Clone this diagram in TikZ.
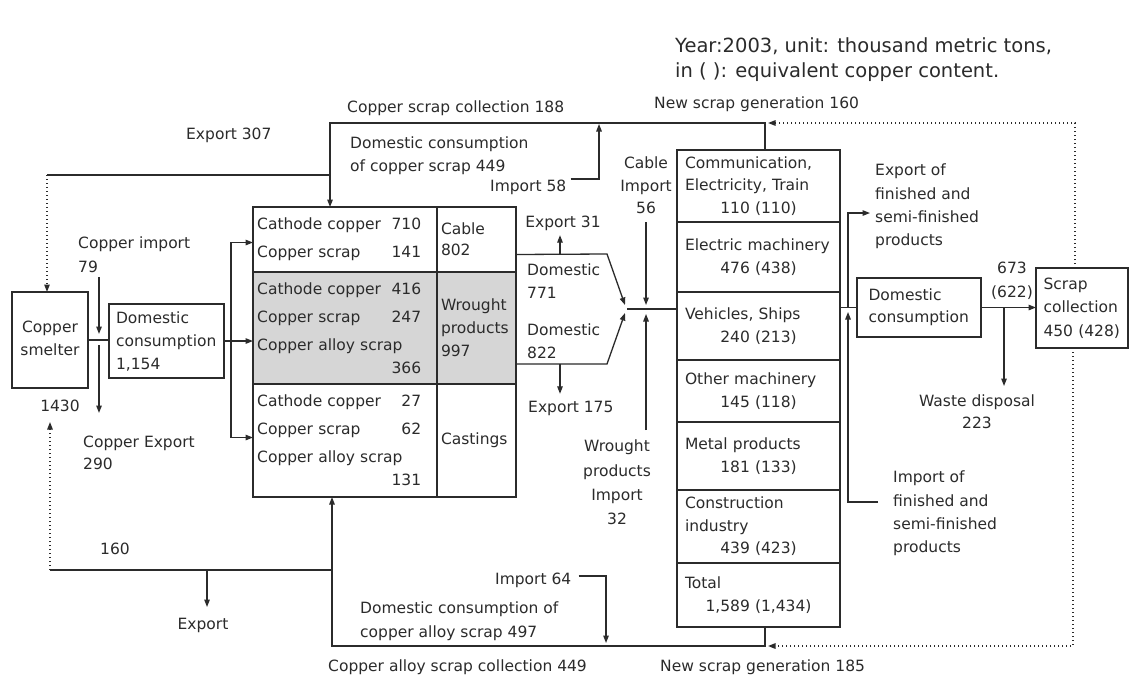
\documentclass[tikz,border=0pt]{standalone}
\usepackage{fontspec}
\setmainfont{DejaVu Sans}
\usetikzlibrary{arrows.meta,positioning}
\definecolor{ink}{HTML}{2B2B2B}
\definecolor{shade}{HTML}{D6D6D6}
\newcommand\fs[1]{\fontsize{15.5}{#1}\selectfont}
\newcommand\sv{\rule[-4pt]{0pt}{16pt}}
\tikzset{
  txt/.style={inner sep=0pt, align=left, text=ink, font={\fs{23}},
              execute at begin node=\sv},
  box/.style={txt, rectangle, draw=ink, line width=1.4pt, outer sep=0pt},
  cell/.style={box, minimum width=184pt},
  side/.style={box, minimum width=79pt, text width=71pt, inner xsep=4pt},
  use/.style={box, minimum width=163pt, text width=147pt, inner xsep=8pt},
  ln/.style={draw=ink, line width=1.3pt},
  fl/.style={ln, -{Triangle[length=7.5pt,width=5.5pt]}},
  dl/.style={fl, dash pattern=on 1.4pt off 2.6pt},
  dln/.style={ln, dash pattern=on 1.4pt off 2.6pt}
}
\begin{document}
\begin{tikzpicture}[x=1pt, y=-1pt]
  \fill[white] (0,0) rectangle (1129,680);
  \useasboundingbox (0,0) rectangle (1129,680);
  \node[txt, anchor=north west, font={\fontsize{19.5}{25}\selectfont}] (note) at (675,37)
    {Year:2003, unit: thousand metric tons,\\in ( ): equivalent copper content.};

  % smelter and first split
  \node[box, minimum width=76pt, minimum height=96pt, align=center] (smelter) at (50,340) {Copper\\smelter};
  \node[txt, anchor=center] (t1430) at (60,407) {1430};
  \node[box, minimum width=115pt, minimum height=74pt, text width=101pt, inner xsep=7pt] (dom) at (166.5,341)
    {Domestic\\consumption\\1,154};
  \node[txt, anchor=north west, font={\fs{24}}] (timp) at (78,237) {Copper import\\79};
  \node[txt, anchor=north west, font={\fs{22}}] (texp) at (83,436) {Copper Export\\290};

  % wire rod / wrought / castings block
  \node[cell, minimum height=65pt, anchor=north west] (l1) at (253,207) {};
  \node[side, minimum height=65pt, right=0pt of l1, font={\fs{21}}] (r1) {Cable\\802};
  \node[cell, fill=shade, minimum height=112pt, below=0pt of l1] (l2) {};
  \node[side, fill=shade, minimum height=112pt, right=0pt of l2] (r2) {Wrought\\products\\997};
  \node[cell, minimum height=113pt, below=0pt of l2] (l3) {};
  \node[side, minimum height=113pt, right=0pt of l3] (r3) {Castings};
  \node[txt, text width=164pt, anchor=west, font={\fs{28}}] (c1) at ([xshift=4pt]l1.west)
    {Cathode copper\hfill 710\\Copper scrap\hfill 141};
  \node[txt, text width=164pt, anchor=west, font={\fs{28}}] (c2) at ([xshift=4pt]l2.west)
    {Cathode copper\hfill 416\\Copper scrap\hfill 247\\Copper alloy scrap\\[-5pt]\hspace*{\fill}366};
  \node[txt, text width=164pt, anchor=west, font={\fs{28}}] (c3) at ([xshift=4pt]l3.west)
    {Cathode copper\hfill 27\\Copper scrap\hfill 62\\Copper alloy scrap\\[-5pt]\hspace*{\fill}131};

  % end use column
  \node[use, minimum height=72pt, anchor=north west, font={\fs{22.5}}] (e1) at (677,150)
    {Communication,\\Electricity, Train\\\hspace*{\fill}110 (110)\hspace*{\fill}};
  \node[use, minimum height=70pt, below=0pt of e1, font={\fs{22.5}}] (e2)
    {Electric machinery\\\hspace*{\fill}476 (438)\hspace*{\fill}};
  \node[use, minimum height=68pt, below=0pt of e2, font={\fs{22.5}}] (e3)
    {Vehicles, Ships\\\hspace*{\fill}240 (213)\hspace*{\fill}};
  \node[use, minimum height=62pt, below=0pt of e3, font={\fs{22.5}}] (e4)
    {Other machinery\\\hspace*{\fill}145 (118)\hspace*{\fill}};
  \node[use, minimum height=68pt, below=0pt of e4, font={\fs{22.5}}] (e5)
    {Metal products\\\hspace*{\fill}181 (133)\hspace*{\fill}};
  \node[use, minimum height=73pt, below=0pt of e5, font={\fs{22.5}}] (e6)
    {Construction\\industry\\\hspace*{\fill}439 (423)\hspace*{\fill}};
  \node[use, minimum height=64pt, below=0pt of e6, font={\fs{22.5}}] (e7)
    {Total\\\hspace*{\fill}1,589 (1,434)\hspace*{\fill}};

  % consumption and scrap
  \node[box, minimum width=124pt, minimum height=59pt, text width=101pt, inner xsep=11.5pt, font={\fs{22}}] (dcons)
    at (919,307.5) {Domestic\\consumption};
  \node[box, minimum width=92pt, minimum height=80pt, text width=77pt, inner xsep=7.5pt, font={\fs{23.5}}] (scrap)
    at (1082,308) {Scrap\\collection\\450 (428)};

  % labels
  \node[txt, anchor=west] (x307) at (186,135) {Export 307};
  \node[txt, anchor=west] (tcol) at (347,108) {Copper scrap collection 188};
  \node[txt, anchor=west] (tnew) at (654,104) {New scrap generation 160};
  \node[txt, anchor=north west] (tdc) at (350,137) {Domestic consumption\\of copper scrap 449};
  \node[txt, anchor=west] (t58) at (490,187) {Import 58};
  \node[txt, anchor=north, align=center, font={\fs{22.5}}] (tcab) at (646,157) {Cable\\Import\\56};
  \node[txt, anchor=center] (x31) at (563,223) {Export 31};
  \node[txt, anchor=north west] (d771) at (527,264) {Domestic\\771};
  \node[txt, anchor=north west] (d822) at (527,324) {Domestic\\822};
  \node[txt, anchor=west] (x175) at (528,408) {Export 175};
  \node[txt, anchor=north, align=center, font={\fs{24.3}}] (twi) at (617,440) {Wrought\\products\\Import\\32};
  \node[txt, anchor=north west, font={\fs{23.3}}] (xfin) at (875,164) {Export of\\finished and\\semi-finished\\products};
  \node[txt, anchor=north, align=center, font={\fs{24}}] (t673) at (1012,262) {673\\(622)};
  \node[txt, anchor=north, align=center, font={\fs{22}}] (waste) at (977,395) {Waste disposal\\223};
  \node[txt, anchor=north west, font={\fs{23.3}}] (ifin) at (893,471) {Import of\\finished and\\semi-finished\\products};
  \node[txt, anchor=west] (t160) at (100,550) {160};
  \node[txt, anchor=center] (xbot) at (203,625) {Export};
  \node[txt, anchor=west] (t64) at (495,580) {Import 64};
  \node[txt, anchor=north west, font={\fs{24}}] (tda) at (360,602) {Domestic consumption of\\copper alloy scrap 497};
  \node[txt, anchor=west] (tacol) at (328,667) {Copper alloy scrap collection 449};
  \node[txt, anchor=west] (tnew2) at (660,667) {New scrap generation 185};

  % junction points
  \coordinate (ntop) at (765,123);  \coordinate (ntopA) at (768,123);
  \coordinate (ctop) at (330,123);  \coordinate (cexp) at (330,175);
  \coordinate (sm1) at (47,175);    \coordinate (stop) at (1075,123);
  \coordinate (j58) at (599,124);
  \coordinate (impA) at (99,277);   \coordinate (ji) at (99,340);
  \coordinate (expA) at (99,413);   \coordinate (jd) at ([xshift=7pt]dom.east);
  \coordinate (k1) at (607,254);    \coordinate (k2) at (607,364);
  \coordinate (mgA) at (625,305);   \coordinate (mgB) at (625,313);
  \coordinate (mg) at (627,309);
  \coordinate (e31) at (560,254);   \coordinate (e175) at (560,364);
  \coordinate (cbA) at (646,305);   \coordinate (cbB) at (646,314);
  \coordinate (wiA) at (646,430);
  \coordinate (jx) at (848,307.5);  \coordinate (jx2) at (848,312);
  \coordinate (xx) at (870,213);    \coordinate (ix) at (878,502);
  \coordinate (jw) at (1004,307.5); \coordinate (wA) at (1004,386);
  \coordinate (nbot) at (765,646);  \coordinate (nbotA) at (768,646);
  \coordinate (sbot) at (1073,646); \coordinate (cbot) at (332,646);
  \coordinate (c160) at (332,570);  \coordinate (s160) at (50,570);
  \coordinate (s1430) at (50,422);  \coordinate (jex) at (207,570);
  \coordinate (ex0) at (207,607);   \coordinate (j64) at (606,646);

  % top loop
  \draw[fl] (ntop |- e1.north) -- (ntop) -- (ctop) -- (ctop |- l1.north);
  \draw[dl] (stop |- scrap.north) -- (stop) -- (ntopA);
  \draw[ln] (cexp) -- (sm1);
  \draw[dl] (sm1) -- (sm1 |- smelter.north);
  \draw[fl] ([xshift=4pt,yshift=8pt]t58.east) -| (j58);

  % smelter to block
  \draw[ln] (smelter.east) -- (smelter.east -| dom.west);
  \draw[fl] (impA) -- ([yshift=6pt]ji);
  \draw[fl] ([yshift=-5pt]ji) -- (expA);
  \draw[fl] (dom.east) -- (dom.east -| l2.west);
  \draw[fl] (jd) |- ([yshift=-3pt]l1.west);
  \draw[fl] (jd) |- ([yshift=3pt]l3.west);

  % block to end use
  \draw[fl] ([yshift=-15pt]r1.east) -- (k1) -- (mgA);
  \draw[fl] ([yshift=-36pt]r2.east) -- (k2) -- (mgB);
  \draw[fl, shorten >=4pt] (e31) -- (e31 |- x31.south);
  \draw[fl, shorten >=6pt] (e175) -- (e175 |- x175.north);
  \draw[ln] (mg) -- (mg -| e3.west);
  \draw[fl] ([yshift=-4pt]tcab.south) -- (cbA);
  \draw[fl] (wiA) -- (cbB);

  % end use to scrap
  \draw[ln] (dcons.west -| e3.east) -- (dcons.west);
  \draw[fl] (jx) |- (xx);
  \draw[fl] (ix) -| (jx2);
  \draw[fl] (dcons.east) -- (dcons.east -| scrap.west);
  \draw[fl] (jw) -- (wA);

  % bottom loop
  \draw[fl] (nbot |- e7.south) -- (nbot) -- (cbot) -- (cbot |- l3.south);
  \draw[dl] (sbot |- scrap.south) -- (sbot) -- (nbotA);
  \draw[ln] (c160) -- (s160);
  \draw[dl] (s160) -- (s1430);
  \draw[fl] (jex) -- (ex0);
  \draw[fl] ([xshift=7pt,yshift=4pt]t64.east) -| ([yshift=3pt]j64);
\end{tikzpicture}
\end{document}
